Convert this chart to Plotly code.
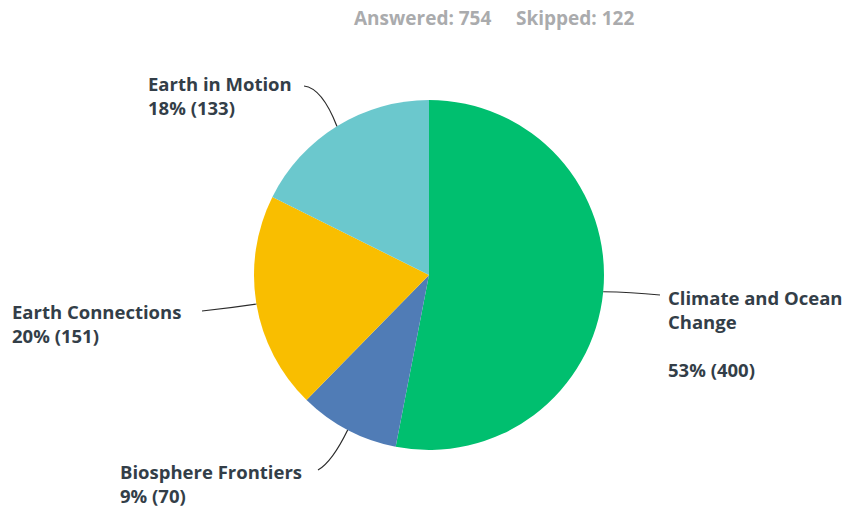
import math
import plotly.graph_objects as go

# Survey responses per theme
categories = ["Climate and Ocean Change", "Biosphere Frontiers", "Earth Connections", "Earth in Motion"]
label_lines = ["Climate and Ocean<br>Change<br>", "Biosphere Frontiers", "Earth Connections", "Earth in Motion"]
counts = [400, 70, 151, 133]
answered = 754
skipped = 122
colors = ["#00BF6F", "#507CB6", "#F9BE00", "#6BC8CD"]

W, H = 850, 508
CX, CY, R = 429, 275, 175          # pie centre / radius in pixels

def px(x):
    return x / W

def py(y):
    return 1 - y / H

fig = go.Figure(go.Pie(
    labels=categories,
    values=counts,
    sort=False,
    direction="clockwise",
    rotation=0,
    marker=dict(colors=colors, line=dict(width=0)),
    textinfo="none",
    hoverinfo="label+value+percent",
    showlegend=False,
    domain=dict(x=[px(CX - R), px(CX + R)], y=[py(CY + R), py(CY - R)]),
))

# Mid-angle of each slice (clockwise from 12 o'clock) and the point on the rim
total = sum(counts)
rim = []
cum = 0
for v in counts:
    mid = (cum + v / 2) / total * 2 * math.pi
    rim.append((CX + R * math.sin(mid), CY - R * math.cos(mid)))
    cum += v

# Label placement: (text x, first-line y, line end x, line end y, ctrl x, ctrl y)
placements = [
    (668, 296, 660, 295, 630, 292),   # Climate and Ocean Change
    (120, 470, 318, 470, 332, 462),   # Biosphere Frontiers
    (12, 310, 202, 311, 230, 308),    # Earth Connections
    (148, 82, 304, 86, 322, 88),      # Earth in Motion
]

text_color = "#333E48"
font = dict(family="Open Sans, Roboto, sans-serif", size=18.5, color=text_color)

shapes = []
annotations = []
for i, (tx, ty, lx, ly, cx_, cy_) in enumerate(placements):
    pct = round(counts[i] / total * 100)
    text = f"<b>{label_lines[i]}<br>{pct}% ({counts[i]})</b>"
    annotations.append(dict(
        x=px(tx - 2), y=py(ty - 13), xref="paper", yref="paper",
        xanchor="left", yanchor="top", align="left",
        text=text, showarrow=False, font=font,
    ))
    ex, ey = rim[i]
    shapes.append(dict(
        type="path", xref="paper", yref="paper",
        path=f"M {px(lx)} {py(ly)} Q {px(cx_)} {py(cy_)} {px(ex)} {py(ey)}",
        line=dict(color="#2b2b2b", width=1.2),
    ))

annotations.append(dict(
    x=px(494), y=py(18), xref="paper", yref="paper",
    xanchor="center", yanchor="middle",
    text=f"<b>Answered: {answered}&nbsp;&nbsp;&nbsp;&nbsp;&nbsp;Skipped: {skipped}</b>",
    showarrow=False,
    font=dict(family="Open Sans, Roboto, sans-serif", size=19, color="#AAABAD"),
))

fig.update_layout(
    width=W, height=H,
    margin=dict(l=0, r=0, t=0, b=0),
    paper_bgcolor="white",
    plot_bgcolor="white",
    shapes=shapes,
    annotations=annotations,
)

fig.write_html("out.html")
